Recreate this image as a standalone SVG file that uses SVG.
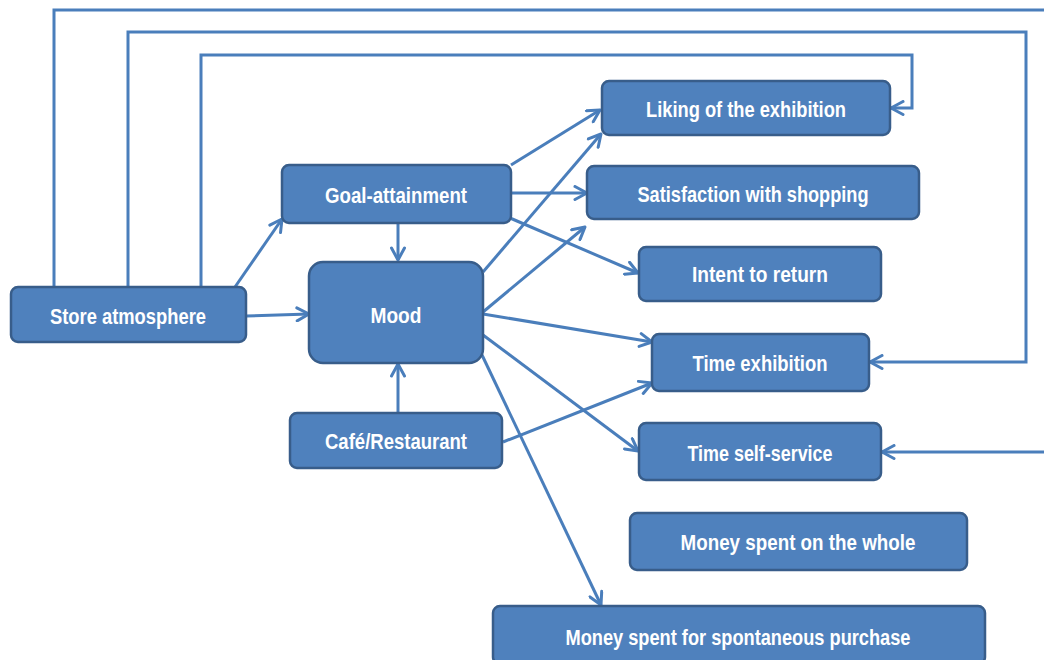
<svg xmlns="http://www.w3.org/2000/svg" width="1044" height="660" viewBox="0 0 1044 660">
  <defs>
    <marker id="arrow" viewBox="0 0 16 16" refX="14" refY="8" markerWidth="16" markerHeight="16" markerUnits="userSpaceOnUse" orient="auto">
      <path d="M2,1.5 L14,8 L2,14.5" fill="none" stroke="#4A7EBB" stroke-width="3" stroke-linecap="round" stroke-linejoin="round"/>
    </marker>
  </defs>
  <style>
    .box { fill: #4F81BD; stroke: #385D8A; stroke-width: 2.5; }
    .lbl { fill: #FFFFFF; font-family: "Liberation Sans", Arial, sans-serif; font-weight: bold; font-size: 22px; text-anchor: middle; dominant-baseline: central; }
    .conn { fill: none; stroke: #4A7EBB; stroke-width: 3; }
    .conn .arr { marker-end: url(#arrow); }
  </style>
  <rect width="1044" height="660" fill="#FFFFFF"/>

  <!-- connectors -->
  <g id="connectors" class="conn">
    <!-- feedback loops from Store atmosphere -->
    <path class="arr" d="M54,288 V10 H1050 V452 H882"/>
    <path class="arr" d="M128,288 V32 H1026 V362 H870"/>
    <path class="arr" d="M201,288 V55 H912 V108 H891"/>
    <!-- Store atmosphere -->
    <path class="arr" d="M235,287 L282,219"/>
    <path class="arr" d="M246,316 L309,314"/>
    <!-- Goal-attainment -->
    <path class="arr" d="M398,223 V260"/>
    <path class="arr" d="M511,165 L600,110"/>
    <path class="arr" d="M511,193 L587,193"/>
    <path class="arr" d="M510,218 L638,273"/>
    <!-- Café/Restaurant -->
    <path class="arr" d="M398,413 V364"/>
    <path class="arr" d="M503,442 L652,383"/>
    <!-- Mood -->
    <path class="arr" d="M483,272 L601,134"/>
    <path class="arr" d="M483,312 L585,227"/>
    <path class="arr" d="M483,314 L652,342"/>
    <path class="arr" d="M483,335 L638,451"/>
    <path class="arr" d="M482,355 L601,605"/>
  </g>

  <!-- nodes -->
  <g id="store-atmosphere">
    <rect class="box" x="11" y="287" width="235" height="55" rx="7"/>
    <text class="lbl" x="128" y="316" textLength="156" lengthAdjust="spacingAndGlyphs">Store atmosphere</text>
  </g>
  <g id="goal-attainment">
    <rect class="box" x="282" y="165" width="229" height="58" rx="7"/>
    <text class="lbl" x="396" y="195" textLength="142" lengthAdjust="spacingAndGlyphs">Goal-attainment</text>
  </g>
  <g id="mood">
    <rect class="box" x="309" y="262" width="174" height="101" rx="14"/>
    <text class="lbl" x="396" y="315" textLength="51" lengthAdjust="spacingAndGlyphs">Mood</text>
  </g>
  <g id="cafe-restaurant">
    <rect class="box" x="290" y="413" width="212" height="55" rx="7"/>
    <text class="lbl" x="396" y="441" textLength="142" lengthAdjust="spacingAndGlyphs">Café/Restaurant</text>
  </g>
  <g id="liking-exhibition">
    <rect class="box" x="602" y="81" width="288" height="54" rx="7"/>
    <text class="lbl" x="746" y="109" textLength="200" lengthAdjust="spacingAndGlyphs">Liking of the exhibition</text>
  </g>
  <g id="satisfaction-shopping">
    <rect class="box" x="587" y="166" width="332" height="53" rx="7"/>
    <text class="lbl" x="753" y="194" textLength="231" lengthAdjust="spacingAndGlyphs">Satisfaction with shopping</text>
  </g>
  <g id="intent-return">
    <rect class="box" x="639" y="247" width="242" height="54" rx="7"/>
    <text class="lbl" x="760" y="274" textLength="136" lengthAdjust="spacingAndGlyphs">Intent to return</text>
  </g>
  <g id="time-exhibition">
    <rect class="box" x="652" y="334" width="217" height="57" rx="7"/>
    <text class="lbl" x="760" y="363" textLength="135" lengthAdjust="spacingAndGlyphs">Time exhibition</text>
  </g>
  <g id="time-self-service">
    <rect class="box" x="639" y="423" width="242" height="57" rx="7"/>
    <text class="lbl" x="760" y="453" textLength="145" lengthAdjust="spacingAndGlyphs">Time self-service</text>
  </g>
  <g id="money-whole">
    <rect class="box" x="630" y="513" width="337" height="57" rx="7"/>
    <text class="lbl" x="798" y="542" textLength="235" lengthAdjust="spacingAndGlyphs">Money spent on the whole</text>
  </g>
  <g id="money-spontaneous">
    <rect class="box" x="493" y="606" width="492" height="58" rx="7"/>
    <text class="lbl" x="738" y="637" textLength="345" lengthAdjust="spacingAndGlyphs">Money spent for spontaneous purchase</text>
  </g>
</svg>
